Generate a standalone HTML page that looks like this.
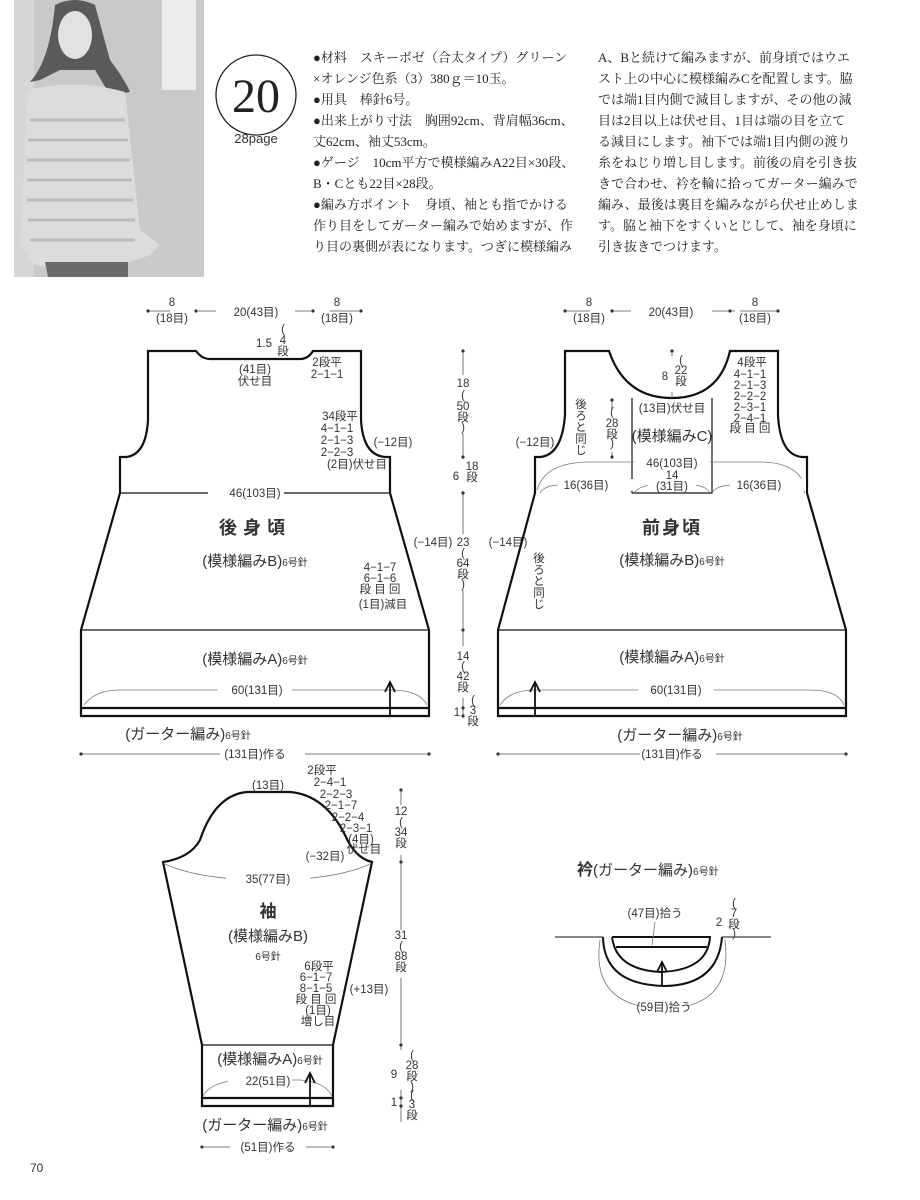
<!DOCTYPE html>
<html><head><meta charset="utf-8"><style>
html,body{margin:0;padding:0;background:#fff}
svg{display:block}
text{font-family:"Liberation Sans","Noto Sans CJK JP",sans-serif;fill:#333}
.s{font-family:"Liberation Serif","Noto Serif CJK SC","Noto Sans CJK JP",serif;font-size:13px;fill:#222}
.d{font-size:11.5px}
.l{font-size:15px}
</style></head><body>
<svg width="920" height="1200" viewBox="0 0 920 1200" xmlns="http://www.w3.org/2000/svg">
<!-- photo -->
<rect x="0" y="0" width="205" height="278" fill="#fff"/>
<rect x="14" y="0" width="190" height="277" fill="#c9c9c9"/>
<rect x="162" y="0" width="34" height="90" fill="#ececec"/>
<rect x="14" y="0" width="20" height="277" fill="#d6d6d6"/>
<path d="M55 5 Q75 -5 95 5 L110 60 Q125 80 130 92 L110 95 L95 70 L60 70 L40 80 L30 82 Q50 60 55 5Z" fill="#5a5a5a"/>
<ellipse cx="75" cy="35" rx="17" ry="24" fill="#e2e2e2"/>
<path d="M28 90 Q75 78 125 92 L140 230 L160 245 L150 255 L130 262 Q80 275 35 265 L20 245 Z" fill="#dcdcdc"/>
<path d="M45 262 L128 262 L128 277 L48 277Z" fill="#6a6a6a"/>
<g stroke="#bcbcbc" stroke-width="3" fill="none">
<path d="M30 120 H125 M28 140 H128 M27 160 H130 M27 180 H132 M27 200 H133 M28 220 H135 M30 240 H135"/>
</g>
<!-- header -->
<circle cx="256" cy="95" r="40" fill="none" stroke="#222" stroke-width="1.3"/>
<text x="256" y="112" text-anchor="middle" style="font-family:'Liberation Serif',serif;font-size:48px;fill:#222">20</text>
<text x="256" y="143" text-anchor="middle" style="font-size:13px">28page</text>
<g class="s">
<text x="313" y="62" class="s">●材料　スキーボゼ（合太タイプ）グリーン</text>
<text x="313" y="83" class="s">×オレンジ色系（3）380ｇ＝10玉。</text>
<text x="313" y="104" class="s">●用具　棒針6号。</text>
<text x="313" y="125" class="s">●出来上がり寸法　胸囲92cm、背肩幅36cm、</text>
<text x="313" y="146" class="s">丈62cm、袖丈53cm。</text>
<text x="313" y="167" class="s">●ゲージ　10cm平方で模様編みA22目×30段、</text>
<text x="313" y="188" class="s">B・Cとも22目×28段。</text>
<text x="313" y="209" class="s">●編み方ポイント　身頃、袖とも指でかける</text>
<text x="313" y="230" class="s">作り目をしてガーター編みで始めますが、作</text>
<text x="313" y="251" class="s">り目の裏側が表になります。つぎに模様編み</text>
<text x="598" y="62" class="s">A、Bと続けて編みますが、前身頃ではウエ</text>
<text x="598" y="83" class="s">スト上の中心に模様編みCを配置します。脇</text>
<text x="598" y="104" class="s">では端1目内側で減目しますが、その他の減</text>
<text x="598" y="125" class="s">目は2目以上は伏せ目、1目は端の目を立て</text>
<text x="598" y="146" class="s">る減目にします。袖下では端1目内側の渡り</text>
<text x="598" y="167" class="s">糸をねじり増し目します。前後の肩を引き抜</text>
<text x="598" y="188" class="s">きで合わせ、衿を輪に拾ってガーター編みで</text>
<text x="598" y="209" class="s">編み、最後は裏目を編みながら伏せ止めしま</text>
<text x="598" y="230" class="s">す。脇と袖下をすくいとじして、袖を身頃に</text>
<text x="598" y="251" class="s">引き抜きでつけます。</text>
</g>

<!-- BACK -->
<g fill="none" stroke="#111" stroke-width="2.2">
<path d="M148 351 H196 Q202 359 210 359 H300 Q308 359 313 351 H361 V420 Q363 455 385 457 H390 V493 L429 630 V716 H81 V630 L120 493 V457 H126 Q146 455 148 420 Z"/>
<path d="M81 708 H429"/>
</g>
<g fill="none" stroke="#111" stroke-width="1.2">
<path d="M120 493 H390 M81 630 H429"/>
</g>
<path d="M84 705 Q95 690 120 690 H390 Q420 690 427 705" fill="none" stroke="#777" stroke-width="0.8"/>
<path d="M390 716 V684" stroke="#111" stroke-width="1.8"/><path d="M385 692 L390 682 L395 692" fill="none" stroke="#111" stroke-width="1.8"/>
<g stroke="#555" stroke-width="0.8"><path d="M148 311 H170 M198 311 H216 M295 311 H314 M330 311 H361 M81 754 H220 M305 754 H429"/></g>
<g fill="#333"><circle cx="148" cy="311" r="1.6"/><circle cx="196" cy="311" r="1.6"/><circle cx="313" cy="311" r="1.6"/><circle cx="361" cy="311" r="1.6"/><circle cx="81" cy="754" r="1.6"/><circle cx="429" cy="754" r="1.6"/></g>
<rect x="218" y="685" width="74" height="10" fill="#fff"/><rect x="208" y="488" width="76" height="10" fill="#fff"/>
<g class="d" text-anchor="middle">
<text x="172" y="306">8</text><text x="172" y="322">(18目)</text>
<text x="256" y="316">20(43目)</text>
<text x="337" y="306">8</text><text x="337" y="322">(18目)</text>
<text x="264" y="347">1.5</text><text x="283" y="333">(</text><text x="283" y="344">4</text><text x="283" y="355">段</text>
<text x="255" y="373">(41目)</text><text x="255" y="385">伏せ目</text>
<text x="327" y="366">2段平</text><text x="327" y="378">2−1−1</text>
<text x="340" y="420">34段平</text><text x="337" y="432">4−1−1</text><text x="337" y="444">2−1−3</text><text x="337" y="456">2−2−3</text><text x="357" y="468">(2目)伏せ目</text>
<text x="393" y="446">(−12目)</text>
<text x="255" y="497">46(103目)</text>
<text x="257" y="694">60(131目)</text>
<text x="255" y="758">(131目)作る</text>
<text x="433" y="546">(−14目)</text>
<text x="380" y="571">4−1−7</text><text x="380" y="582">6−1−6</text><text x="380" y="593">段 目 回</text><text x="383" y="608">(1目)減目</text>
</g>
<text x="255" y="534" text-anchor="middle" style="font-size:18px;font-weight:bold;letter-spacing:6px">後身頃</text>
<text x="255" y="566" text-anchor="middle" class="l">(模様編みB)<tspan style="font-size:10px">6号針</tspan></text>
<text x="255" y="664" text-anchor="middle" class="l">(模様編みA)<tspan style="font-size:10px">6号針</tspan></text>
<text x="188" y="739" text-anchor="middle" class="l">(ガーター編み)<tspan style="font-size:10px">6号針</tspan></text>

<!-- Vertical dim -->
<path d="M463 351 V716" stroke="#555" stroke-width="0.8"/>
<g fill="#333"><circle cx="463" cy="351" r="1.6"/><circle cx="463" cy="457" r="1.6"/><circle cx="463" cy="493" r="1.6"/><circle cx="463" cy="630" r="1.6"/><circle cx="463" cy="708" r="1.6"/><circle cx="463" cy="716" r="1.6"/></g>
<g fill="#fff"><rect x="455" y="375" width="16" height="58"/><rect x="451" y="459" width="26" height="32"/><rect x="455" y="534" width="16" height="56"/><rect x="455" y="646" width="16" height="52"/></g>
<g class="d" text-anchor="middle">
<text x="463" y="387">18</text><text x="463" y="399">(</text><text x="463" y="410">50</text><text x="463" y="421">段</text><text x="463" y="431">)</text>
<text x="456" y="480">6</text><text x="472" y="470">18</text><text x="472" y="481">段</text>
<text x="463" y="546">23</text><text x="463" y="557">(</text><text x="463" y="567">64</text><text x="463" y="578">段</text><text x="463" y="588">)</text>
<text x="463" y="660">14</text><text x="463" y="670">(</text><text x="463" y="680">42</text><text x="463" y="691">段</text>
<text x="457" y="716">1</text><text x="473" y="704">(</text><text x="473" y="714">3</text><text x="473" y="725">段</text>
<text x="508" y="546">(−14目)</text>
</g>

<!-- FRONT -->
<g fill="none" stroke="#111" stroke-width="2.2">
<path d="M565 351 H609 Q625 398 672 398 Q719 398 730 351 H778 V415 Q780 455 802 457 H807 V493 L846 630 V716 H498 V630 L535 493 V457 H540 Q562 455 565 415 Z"/>
<path d="M498 708 H846"/>
</g>
<g fill="none" stroke="#111" stroke-width="1.2"><path d="M632 398 V493 H712 V398 M498 630 H846"/></g>
<g fill="none" stroke="#777" stroke-width="0.8">
<path d="M537 490 Q545 462 590 462 H760 Q800 462 806 490"/>
<path d="M540 493 Q545 485 560 485 H610 Q628 485 632 493 M712 493 Q716 485 735 485 H790 Q802 485 805 493 M634 493 Q640 485 655 485 H690 Q706 485 710 493"/>
<path d="M500 705 Q510 690 535 690 H810 Q838 690 844 705"/>
</g>
<path d="M535 716 V684" stroke="#111" stroke-width="1.8"/><path d="M530 692 L535 682 L540 692" fill="none" stroke="#111" stroke-width="1.8"/>
<g stroke="#555" stroke-width="0.8"><path d="M565 311 H590 M612 311 H631 M712 311 H735 M740 311 H778 M498 754 H640 M716 754 H846 M672 351 V398 M612 400 V457"/></g>
<g fill="#333"><circle cx="565" cy="311" r="1.6"/><circle cx="612" cy="311" r="1.6"/><circle cx="730" cy="311" r="1.6"/><circle cx="778" cy="311" r="1.6"/><circle cx="498" cy="754" r="1.6"/><circle cx="846" cy="754" r="1.6"/><circle cx="672" cy="351" r="1.6"/><circle cx="612" cy="400" r="1.6"/><circle cx="612" cy="457" r="1.6"/></g>
<g fill="#fff"><rect x="634" y="456" width="76" height="15"/><rect x="638" y="685" width="76" height="10"/><rect x="664" y="356" width="24" height="36"/><rect x="604" y="410" width="16" height="42"/><rect x="558" y="479" width="76" height="12"/><rect x="730" y="479" width="76" height="12"/><rect x="648" y="477" width="48" height="15"/></g>
<g class="d" text-anchor="middle">
<text x="589" y="306">8</text><text x="589" y="322">(18目)</text>
<text x="671" y="316">20(43目)</text>
<text x="755" y="306">8</text><text x="755" y="322">(18目)</text>
<text x="665" y="380">8</text><text x="681" y="364">(</text><text x="681" y="374">22</text><text x="681" y="385">段</text>
<text x="672" y="412">(13目)伏せ目</text>
<text x="752" y="366">4段平</text><text x="750" y="378">4−1−1</text><text x="750" y="389">2−1−3</text><text x="750" y="400">2−2−2</text><text x="750" y="411">2−3−1</text><text x="750" y="422">2−4−1</text><text x="750" y="432">段 目 回</text>
<text x="612" y="416">(</text><text x="612" y="427">28</text><text x="612" y="438">段</text><text x="612" y="447">)</text>
<text x="535" y="446">(−12目)</text>
<text x="672" y="467">46(103目)</text>
<text x="672" y="479">14</text>
<text x="672" y="490">(31目)</text>
<text x="586" y="489">16(36目)</text><text x="759" y="489">16(36目)</text>
<text x="676" y="694">60(131目)</text>
<text x="672" y="758">(131目)作る</text>
</g>
<text x="580" y="398" class="d" style="writing-mode:tb">後ろと同じ</text>
<text x="538" y="552" class="d" style="writing-mode:tb">後ろと同じ</text>
<text x="672" y="441" text-anchor="middle" class="l">(模様編みC)</text>
<text x="672" y="534" text-anchor="middle" style="font-size:18px;font-weight:bold;letter-spacing:2px">前身頃</text>
<text x="672" y="565" text-anchor="middle" class="l">(模様編みB)<tspan style="font-size:10px">6号針</tspan></text>
<text x="672" y="662" text-anchor="middle" class="l">(模様編みA)<tspan style="font-size:10px">6号針</tspan></text>
<text x="680" y="740" text-anchor="middle" class="l">(ガーター編み)<tspan style="font-size:10px">6号針</tspan></text>

<!-- SLEEVE -->
<g fill="none" stroke="#111" stroke-width="2.2">
<path d="M163 862 Q190 858 200 840 Q215 795 247 792 H290 Q325 795 345 835 Q355 858 372 862 L333 1045 V1106 H202 V1045 Z"/>
<path d="M202 1098 H333"/>
</g>
<path d="M202 1045 H333" stroke="#111" stroke-width="1.2"/>
<g fill="none" stroke="#777" stroke-width="0.8"><path d="M165 864 Q200 880 268 880 Q335 880 370 864"/><path d="M203 1096 Q210 1082 240 1080 H300 Q325 1082 332 1096"/></g>
<rect x="226" y="873" width="84" height="12" fill="#fff"/><rect x="228" y="1074" width="64" height="12" fill="#fff"/>
<path d="M310 1106 V1075" stroke="#111" stroke-width="1.8"/><path d="M305 1083 L310 1073 L315 1083" fill="none" stroke="#111" stroke-width="1.8"/>
<path d="M401 790 V1122" stroke="#555" stroke-width="0.8"/>
<g fill="#fff"><rect x="393" y="805" width="16" height="50"/><rect x="393" y="930" width="16" height="48"/><rect x="393" y="1050" width="28" height="40"/></g>
<g fill="#333"><circle cx="401" cy="790" r="1.6"/><circle cx="401" cy="862" r="1.6"/><circle cx="401" cy="1045" r="1.6"/><circle cx="401" cy="1098" r="1.6"/><circle cx="401" cy="1106" r="1.6"/><circle cx="202" cy="1147" r="1.6"/><circle cx="333" cy="1147" r="1.6"/></g>
<path d="M202 1147 H230 M306 1147 H333" stroke="#555" stroke-width="0.8"/>
<g class="d" text-anchor="middle">
<text x="268" y="789">(13目)</text>
<text x="322" y="774">2段平</text><text x="330" y="786">2−4−1</text><text x="336" y="798">2−2−3</text><text x="341" y="809">2−1−7</text><text x="348" y="821">2−2−4</text><text x="356" y="832">2−3−1</text><text x="361" y="843">(4目)</text><text x="364" y="853">伏せ目</text>
<text x="325" y="860">(−32目)</text>
<text x="268" y="883">35(77目)</text>
<text x="319" y="970">6段平</text><text x="316" y="981">6−1−7</text><text x="316" y="992">8−1−5</text><text x="316" y="1003">段 目 回</text><text x="318" y="1014">(1目)</text><text x="318" y="1025">増し目</text>
<text x="369" y="993">(+13目)</text>
<text x="401" y="815">12</text><text x="401" y="826">(</text><text x="401" y="836">34</text><text x="401" y="847">段</text>
<text x="401" y="939">31</text><text x="401" y="950">(</text><text x="401" y="960">88</text><text x="401" y="971">段</text>
<text x="394" y="1078">9</text><text x="412" y="1059">(</text><text x="412" y="1069">28</text><text x="412" y="1080">段</text><text x="412" y="1090">)</text>
<text x="394" y="1106">1</text><text x="412" y="1099">(</text><text x="412" y="1108">3</text><text x="412" y="1119">段</text>
<text x="268" y="1085">22(51目)</text>
<text x="268" y="1151">(51目)作る</text>
</g>
<text x="268" y="917" text-anchor="middle" style="font-size:17px;font-weight:bold">袖</text>
<text x="268" y="941" text-anchor="middle" class="l">(模様編みB)</text>
<text x="268" y="960" text-anchor="middle" style="font-size:10px">6号針</text>
<text x="270" y="1064" text-anchor="middle" class="l">(模様編みA)<tspan style="font-size:10px">6号針</tspan></text>
<text x="265" y="1130" text-anchor="middle" class="l">(ガーター編み)<tspan style="font-size:10px">6号針</tspan></text>

<!-- COLLAR -->
<text x="577" y="875" style="font-size:16px;font-weight:bold">衿<tspan style="font-weight:normal;font-size:15px">(ガーター編み)</tspan><tspan style="font-weight:normal;font-size:10px">6号針</tspan></text>
<path d="M555 937 H603 M722 937 H771" stroke="#111" stroke-width="1"/>
<g fill="none" stroke="#111" stroke-width="2">
<path d="M603 937 Q604 985 665 986 Q718 985 722 937"/>
<path d="M612 937 H710 Q708 970 661 972 Q616 970 612 937"/>
<path d="M616 947 H707"/>
</g>
<path d="M662 986 V964" stroke="#111" stroke-width="1.8"/><path d="M657 972 L662 962 L667 972" fill="none" stroke="#111" stroke-width="1.8"/>
<g fill="none" stroke="#777" stroke-width="0.8"><path d="M600 940 Q592 995 640 1006 M687 1006 Q732 995 725 940"/><path d="M652 945 L655 922"/></g>
<g class="d" text-anchor="middle">
<text x="655" y="917">(47目)拾う</text>
<text x="719" y="926">2</text><text x="734" y="907">(</text><text x="734" y="917">7</text><text x="734" y="928">段</text><text x="734" y="937">)</text>
<text x="664" y="1011">(59目)拾う</text>
</g>

<text x="30" y="1172" style="font-size:12px">70</text>
</svg>
</body></html>
